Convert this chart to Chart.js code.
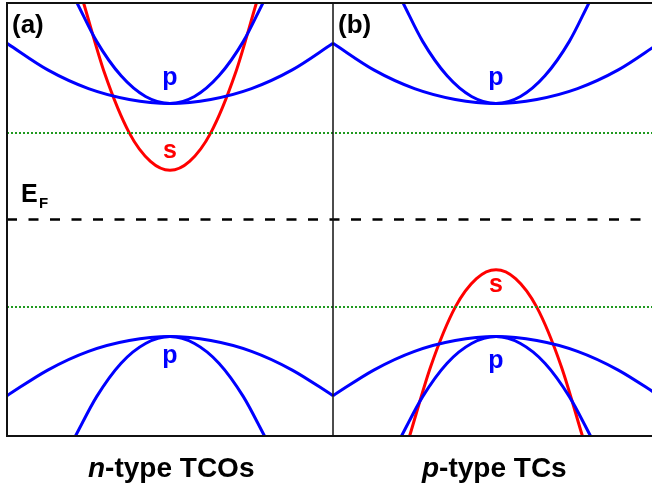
<!DOCTYPE html>
<html>
<head>
<meta charset="utf-8">
<script src="https://cdn.jsdelivr.net/npm/chart.js@4.4.0/dist/chart.umd.min.js"></script>
<style>
  html, body { margin: 0; padding: 0; background: #fff; }
  #wrap { width: 652px; height: 487px; }
</style>
</head>
<body>
<div id="wrap"><canvas id="bands" width="652" height="487"></canvas></div>
<script>
// ========================================
// BAND SKETCH: n-type TCOs vs p-type TCs
// k is measured from each panel centre, energy relative to E_F
// ========================================

const panelCenters = [0, 2];
const panelDivider = 1;

// wide p bands (both panels, conduction and valence)
const kWide = [-1, -0.75, -0.5, -0.25, 0, 0.25, 0.5, 0.75, 1];
const eWideCB = [1.79, 1.52, 1.33, 1.22, 1.18, 1.22, 1.33, 1.52, 1.79];
const eWideVB = [-1.79, -1.53, -1.34, -1.23, -1.19, -1.23, -1.34, -1.53, -1.79];

// narrow p bands
const kNarrowCB = [-0.57, -0.45, -0.3, -0.15, 0, 0.15, 0.3, 0.45, 0.57];
const eNarrowCB = [2.2, 1.81, 1.46, 1.25, 1.18, 1.25, 1.46, 1.81, 2.2];
const kNarrowVB = [-0.58, -0.45, -0.3, -0.15, 0, 0.15, 0.3, 0.45, 0.58];
const eNarrowVB = [-2.2, -1.8, -1.46, -1.26, -1.19, -1.26, -1.46, -1.8, -2.2];

// s bands: conduction in (a), valence in (b)
const kS = [-0.53, -0.4, -0.25, -0.12, 0, 0.12, 0.25, 0.4, 0.53];
const eSCB = [2.2, 1.48, 0.88, 0.59, 0.5, 0.59, 0.88, 1.48, 2.2];
const eSVB = [-2.2, -1.49, -0.89, -0.6, -0.51, -0.6, -0.89, -1.49, -2.2];

const fermiLevel = 0;
const dottedLevels = [0.88, -0.89];

// band labels
const labelText = ['p', 's', 'p', 'p', 's', 'p'];
const labelK = [0, 0, 0, 2, 2, 2];
const labelE = [1.37, 0.63, -1.46, 1.37, -0.74, -1.51];

const panelTags = ['(a)', '(b)'];
const panelTitles = [['n', '-type TCOs'], ['p', '-type TCs']];

const xMin = -1, xMax = 2.957, eMin = -2.2, eMax = 2.2;
const BLUE = '#0000ff', RED = '#ff0000';
const FONT = '"Liberation Sans", Arial, sans-serif';

function curve(ks, es, centre) {
  return ks.map((k, i) => ({ x: centre + k, y: es[i] }));
}

function band(data, color) {
  return {
    data: data,
    borderColor: color,
    borderWidth: 3,
    fill: false,
    pointRadius: 0,
    cubicInterpolationMode: 'monotone'
  };
}

function level(e, color, dash, width) {
  return {
    data: [{ x: xMin, y: e }, { x: xMax + 0.1, y: e }],
    borderColor: color,
    borderWidth: width,
    borderDash: dash,
    fill: false,
    pointRadius: 0
  };
}

const datasets = [];
datasets.push(level(fermiLevel, '#000', [10, 11.5], 2.5));
dottedLevels.forEach(e => datasets.push(level(e, '#1f9a1f', [2, 2], 2)));

panelCenters.forEach(c => {
  datasets.push(band(curve(kWide, eWideCB, c), BLUE));
  datasets.push(band(curve(kNarrowCB, eNarrowCB, c), BLUE));
  datasets.push(band(curve(kWide, eWideVB, c), BLUE));
  datasets.push(band(curve(kNarrowVB, eNarrowVB, c), BLUE));
});
datasets.push(band(curve(kS, eSCB, panelCenters[0]), RED));
datasets.push(band(curve(kS, eSVB, panelCenters[1]), RED));

const sketchPlugin = {
  id: 'sketch',
  afterDatasetsDraw(chart) {
    const { ctx, chartArea: a, scales: { x, y } } = chart;
    ctx.save();

    // frame (right side runs off the picture)
    ctx.strokeStyle = '#111';
    ctx.lineWidth = 2;
    ctx.strokeRect(a.left, a.top, a.right - a.left + 10, a.bottom - a.top);
    ctx.lineWidth = 1.5;
    const xd = x.getPixelForValue(panelDivider);
    ctx.beginPath();
    ctx.moveTo(xd, a.top);
    ctx.lineTo(xd, a.bottom);
    ctx.stroke();

    // band labels
    ctx.font = 'bold 25px ' + FONT;
    ctx.textAlign = 'center';
    ctx.textBaseline = 'alphabetic';
    labelText.forEach((t, i) => {
      ctx.fillStyle = t === 's' ? RED : BLUE;
      ctx.fillText(t, x.getPixelForValue(labelK[i]), y.getPixelForValue(labelE[i]));
    });

    // panel tags
    ctx.fillStyle = '#000';
    ctx.textAlign = 'left';
    ctx.font = 'bold 26px ' + FONT;
    ctx.fillText(panelTags[0], 12, 33);
    ctx.fillText(panelTags[1], 338, 33);

    // E_F
    ctx.font = 'bold 25px ' + FONT;
    ctx.fillText('E', 21, 202);
    ctx.font = 'bold 15px ' + FONT;
    ctx.fillText('F', 39, 208);

    // panel titles, first letter italic
    const titleX = [88, 422];
    panelTitles.forEach((parts, i) => {
      ctx.font = 'italic bold 28px ' + FONT;
      ctx.fillText(parts[0], titleX[i], 477);
      const w = ctx.measureText(parts[0]).width;
      ctx.font = 'bold 28px ' + FONT;
      ctx.fillText(parts[1], titleX[i] + w, 477);
    });

    ctx.restore();
  }
};

new Chart(document.getElementById('bands'), {
  type: 'line',
  data: { datasets },
  options: {
    responsive: false,
    animation: false,
    layout: { padding: { left: 7, top: 3, right: 0, bottom: 51 } },
    scales: {
      x: { type: 'linear', min: xMin, max: xMax, display: false },
      y: { type: 'linear', min: eMin, max: eMax, display: false }
    },
    plugins: {
      legend: { display: false },
      tooltip: { enabled: false }
    }
  },
  plugins: [sketchPlugin]
});
</script>
</body>
</html>
